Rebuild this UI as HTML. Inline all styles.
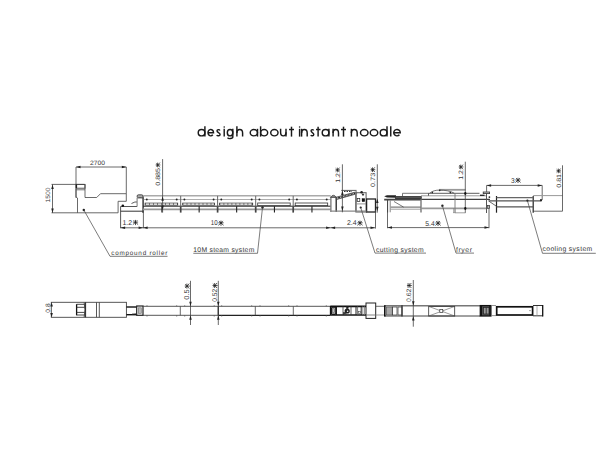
<!DOCTYPE html>
<html><head><meta charset="utf-8"><style>
html,body{margin:0;padding:0;background:#fff;}
body{width:600px;height:463px;overflow:hidden;}
svg{display:block;}
text{font-family:"Liberation Sans",sans-serif;text-rendering:geometricPrecision;}
</style></head><body>
<svg width="600" height="463" viewBox="0 0 600 463" shape-rendering="geometricPrecision">
<g fill="none" stroke="#1a1a1a" stroke-width="1.45"><ellipse cx="201.56" cy="132.70" rx="3.34" ry="3.17"/><path d="M204.90,126.30V136.60"/><path d="M207.97,132.70H213.53A2.78,3.17 0 1 0 212.81,134.82"/><path d="M219.88,130.43C219.48,129.33 217.12,129.22 217.02,130.83C216.92,132.90 220.08,132.40 220.08,134.57C219.98,136.18 217.22,136.18 216.82,134.97"/><path d="M224.20,128.80V136.60"/><circle cx="224.20" cy="127.05" r="0.8" fill="#1a1a1a" stroke="none"/><ellipse cx="230.06" cy="132.70" rx="2.74" ry="3.17"/><path d="M232.80,128.80V137.08C232.80,138.88 227.92,139.08 227.72,137.68"/><path d="M236.90,126.30V136.60"/><path d="M236.90,133.10A2.85,3.57 0 0 1 242.60,133.10V136.60"/><ellipse cx="253.86" cy="132.70" rx="3.64" ry="3.17"/><path d="M257.50,128.80V136.60"/><ellipse cx="264.14" cy="132.70" rx="3.54" ry="3.17"/><path d="M260.60,126.30V136.60"/><ellipse cx="274.38" cy="132.70" rx="3.65" ry="3.17"/><path d="M280.60,128.80V132.30A2.70,3.58 0 0 0 286.00,132.30"/><path d="M286.00,128.80V136.60"/><path d="M291.50,126.70V136.60"/><path d="M289.00,129.53H294.00"/><path d="M299.60,128.80V136.60"/><circle cx="299.60" cy="127.05" r="0.8" fill="#1a1a1a" stroke="none"/><path d="M301.60,128.80V136.60"/><path d="M301.60,133.10A2.80,3.57 0 0 1 307.20,133.10V136.60"/><path d="M313.57,130.43C313.17,129.33 311.18,129.22 311.08,130.83C310.98,132.90 313.77,132.40 313.77,134.57C313.67,136.18 311.28,136.18 310.88,134.97"/><path d="M318.10,126.70V136.60"/><path d="M316.00,129.53H320.50"/><ellipse cx="325.56" cy="132.70" rx="3.34" ry="3.17"/><path d="M328.90,128.80V136.60"/><path d="M333.10,128.80V136.60"/><path d="M333.10,133.10A2.70,3.57 0 0 1 338.50,133.10V136.60"/><path d="M343.50,126.70V136.60"/><path d="M341.00,129.53H346.00"/><path d="M351.40,128.80V136.60"/><path d="M351.40,133.10A2.90,3.57 0 0 1 357.20,133.10V136.60"/><ellipse cx="364.25" cy="132.70" rx="3.77" ry="3.17"/><ellipse cx="374.00" cy="132.70" rx="3.77" ry="3.17"/><ellipse cx="383.61" cy="132.70" rx="3.39" ry="3.17"/><path d="M387.00,126.30V136.60"/><path d="M390.75,126.30V136.60"/><path d="M393.73,132.70H400.27A3.27,3.17 0 1 0 399.43,134.82"/></g>
<line x1="76" y1="167" x2="126.3" y2="167" stroke="#444" stroke-width="0.8" />
<polygon points="76,167 80.5,165.75 80.5,168.25" fill="#222"/>
<polygon points="126.3,167 121.8,165.75 121.8,168.25" fill="#222"/>
<text x="97.5" y="165" font-size="6.3" text-anchor="middle" fill="#333" textLength="15" lengthAdjust="spacingAndGlyphs" >2700</text>
<line x1="76" y1="167" x2="76" y2="198" stroke="#444" stroke-width="0.8" />
<line x1="126.3" y1="167" x2="126.3" y2="193.7" stroke="#444" stroke-width="0.8" />
<line x1="51.5" y1="184.4" x2="84.5" y2="184.4" stroke="#444" stroke-width="0.8" />
<line x1="52.5" y1="184.4" x2="52.5" y2="213" stroke="#444" stroke-width="0.8" />
<polygon points="52.5,184.4 51.25,188.9 53.75,188.9" fill="#222"/>
<polygon points="52.5,213 51.25,208.5 53.75,208.5" fill="#222"/>
<text x="50" y="195" font-size="6.3" text-anchor="middle" fill="#333" textLength="15" lengthAdjust="spacingAndGlyphs" transform="rotate(-90 50 195)" >1500</text>
<rect x="76" y="184.4" width="9" height="3.8" stroke="#444" stroke-width="0.9" fill="none" />
<line x1="76.5" y1="184.4" x2="76.5" y2="188.2" stroke="#222" stroke-width="1.2" />
<line x1="76" y1="189.8" x2="85" y2="189.8" stroke="#666" stroke-width="0.9" />
<polyline points="85,184.4 85,197.5 96.7,197.5 100.5,193.7 126.3,193.7 126.3,201.3 118.1,201.3 118.1,212.8" stroke="#444" stroke-width="0.8" fill="none" />
<polyline points="76,189 76,197 77.5,198 77.5,212.8" stroke="#444" stroke-width="0.8" fill="none" />
<line x1="51.5" y1="212.8" x2="118.1" y2="212.8" stroke="#444" stroke-width="0.8" />
<circle cx="83.8" cy="210" r="1.2" fill="#222"/>
<polyline points="83.8,210 110,256.3 167.5,256.3" stroke="#444" stroke-width="0.7" fill="none" />
<text x="111.3" y="254.7" font-size="6.3" text-anchor="start" fill="#333" textLength="56" lengthAdjust="spacing" >compound roller</text>
<polyline points="120.6,228.2 120.6,206.5 137.1,206.5" stroke="#444" stroke-width="0.9" fill="none" />
<circle cx="122.8" cy="205.8" r="1.3" fill="#111"/>
<line x1="120.6" y1="211.2" x2="143.4" y2="211.2" stroke="#333" stroke-width="1.0" />
<polyline points="131.5,203.5 134.9,202 137,202" stroke="#333" stroke-width="0.8" fill="none" />
<rect x="137.1" y="194.8" width="5.9" height="2.8" stroke="#333" stroke-width="0.8" fill="#aaa" rx="1.3"/>
<line x1="137.1" y1="198" x2="143" y2="198" stroke="#555" stroke-width="0.7" />
<line x1="137.1" y1="197.6" x2="137.1" y2="206.5" stroke="#777" stroke-width="1.0" />
<line x1="143" y1="197.6" x2="143" y2="213" stroke="#222" stroke-width="1.1" />
<line x1="143.4" y1="196" x2="143.4" y2="228.2" stroke="#444" stroke-width="0.8" />
<text x="122.50" y="224.6" font-size="7" fill="#333" textLength="9.68" lengthAdjust="spacingAndGlyphs">1.2</text><path d="M132.90,222.09H138.08M135.49,219.91V225.09M133.63,220.22L134.61,221.26M137.35,220.22L136.37,221.26M135.23,222.50L132.90,224.57M135.75,222.50L138.08,224.57" stroke="#222" stroke-width="0.8" fill="none"/><circle cx="135.49" cy="222.29" r="0.88" fill="#222"/>
<line x1="120.6" y1="227.8" x2="375" y2="227.8" stroke="#444" stroke-width="0.8" />
<polygon points="120.6,227.8 125.1,226.55 125.1,229.05" fill="#222"/>
<polygon points="143.1,227.8 138.6,226.55 138.6,229.05" fill="#222"/>
<polygon points="143.1,227.8 147.6,226.55 147.6,229.05" fill="#222"/>
<polygon points="330.6,227.8 326.1,226.55 326.1,229.05" fill="#222"/>
<polygon points="330.6,227.8 335.1,226.55 335.1,229.05" fill="#222"/>
<polygon points="375,227.8 370.5,226.55 370.5,229.05" fill="#222"/>
<line x1="143.1" y1="195.8" x2="330.7" y2="195.8" stroke="#aaa" stroke-width="1.6" />
<line x1="143.1" y1="199.5" x2="330.7" y2="199.5" stroke="#777" stroke-width="0.6" />
<line x1="143.1" y1="206.2" x2="330.7" y2="206.2" stroke="#222" stroke-width="1.0" />
<line x1="143.1" y1="209.3" x2="330.7" y2="209.3" stroke="#999" stroke-width="1.8" />
<rect x="145.1" y="203.1" width="32.599999999999994" height="2.0" stroke="#333" stroke-width="0.8" fill="#777" />
<line x1="145.79999999999998" y1="204.1" x2="177.0" y2="204.1" stroke="#fff" stroke-width="1.3" stroke-dasharray="3.2,0.8"/>
<circle cx="146.79999999999998" cy="199.5" r="0.95" fill="#222"/>
<circle cx="176.7" cy="199.5" r="0.95" fill="#222"/>
<line x1="161.89999999999998" y1="206.3" x2="161.89999999999998" y2="212.6" stroke="#222" stroke-width="1.1" />
<rect x="182.7" y="203.1" width="31.900000000000006" height="2.0" stroke="#333" stroke-width="0.8" fill="#777" />
<line x1="183.39999999999998" y1="204.1" x2="213.9" y2="204.1" stroke="#fff" stroke-width="1.3" stroke-dasharray="3.2,0.8"/>
<circle cx="184.39999999999998" cy="199.5" r="0.95" fill="#222"/>
<circle cx="213.6" cy="199.5" r="0.95" fill="#222"/>
<line x1="199.14999999999998" y1="206.3" x2="199.14999999999998" y2="212.6" stroke="#222" stroke-width="1.1" />
<rect x="219.6" y="203.1" width="33.099999999999994" height="2.0" stroke="#333" stroke-width="0.8" fill="#777" />
<line x1="220.29999999999998" y1="204.1" x2="252.0" y2="204.1" stroke="#fff" stroke-width="1.3" stroke-dasharray="3.2,0.8"/>
<circle cx="221.29999999999998" cy="199.5" r="0.95" fill="#222"/>
<circle cx="251.7" cy="199.5" r="0.95" fill="#222"/>
<line x1="236.64999999999998" y1="206.3" x2="236.64999999999998" y2="212.6" stroke="#222" stroke-width="1.1" />
<rect x="257.7" y="203.0" width="32.5" height="2.6" stroke="#333" stroke-width="0.8" fill="#fff" />
<circle cx="259.4" cy="199.5" r="0.95" fill="#222"/>
<circle cx="289.2" cy="199.5" r="0.95" fill="#222"/>
<line x1="274.45" y1="206.3" x2="274.45" y2="212.6" stroke="#222" stroke-width="1.1" />
<rect x="295.2" y="203.0" width="32.5" height="2.6" stroke="#333" stroke-width="0.8" fill="#fff" />
<circle cx="296.9" cy="199.5" r="0.95" fill="#222"/>
<circle cx="326.7" cy="199.5" r="0.95" fill="#222"/>
<line x1="311.95" y1="206.3" x2="311.95" y2="212.6" stroke="#222" stroke-width="1.1" />
<line x1="180.7" y1="195.9" x2="180.7" y2="206.5" stroke="#666" stroke-width="1.0" />
<line x1="180.7" y1="206.5" x2="180.7" y2="212.6" stroke="#444" stroke-width="1.7" />
<line x1="217.6" y1="195.9" x2="217.6" y2="206.5" stroke="#666" stroke-width="1.0" />
<line x1="217.6" y1="206.5" x2="217.6" y2="212.6" stroke="#444" stroke-width="1.7" />
<line x1="255.7" y1="195.9" x2="255.7" y2="206.5" stroke="#666" stroke-width="1.0" />
<line x1="255.7" y1="206.5" x2="255.7" y2="212.6" stroke="#444" stroke-width="1.7" />
<line x1="293.2" y1="195.9" x2="293.2" y2="206.5" stroke="#666" stroke-width="1.0" />
<line x1="293.2" y1="206.5" x2="293.2" y2="212.6" stroke="#444" stroke-width="1.7" />
<line x1="162.6" y1="159.1" x2="162.6" y2="212.5" stroke="#444" stroke-width="0.8" />
<polygon points="162.6,196.2 161.35,200.7 163.85,200.7" fill="#222"/>
<polygon points="162.6,210 161.35,205.5 163.85,205.5" fill="#222"/>
<g transform="rotate(-90 159.9 174)"><text x="148.15" y="174" font-size="6.3" fill="#333" textLength="17.78" lengthAdjust="spacingAndGlyphs">0.885</text><path d="M166.61,171.74H171.27M168.94,169.78V174.44M167.26,170.06L168.15,170.99M170.62,170.06L169.73,170.99M168.71,172.11L166.61,173.97M169.17,172.11L171.27,173.97" stroke="#222" stroke-width="0.8" fill="none"/><circle cx="168.94" cy="171.92" r="0.79" fill="#222"/></g>
<text x="210.80" y="225.3" font-size="7" fill="#333" textLength="6.88" lengthAdjust="spacingAndGlyphs">10</text><path d="M218.40,222.79H223.58M220.99,220.61V225.79M219.13,220.92L220.11,221.96M222.85,220.92L221.87,221.96M220.73,223.20L218.40,225.27M221.25,223.20L223.58,225.27" stroke="#222" stroke-width="0.8" fill="none"/><circle cx="220.99" cy="222.99" r="0.88" fill="#222"/>
<circle cx="262.5" cy="207.5" r="1.2" fill="#222"/>
<polyline points="262.5,207.5 257.5,253.3 193.3,253.3" stroke="#444" stroke-width="0.7" fill="none" />
<text x="193.3" y="251.7" font-size="6.8" text-anchor="start" fill="#333" textLength="61" lengthAdjust="spacing" >10M steam system</text>
<line x1="330.9" y1="197" x2="330.9" y2="212" stroke="#777" stroke-width="1.3" />
<line x1="336.2" y1="197" x2="336.2" y2="212" stroke="#222" stroke-width="1.3" />
<path d="M330.5,197.3 Q333.4,193.3 336.4,197.3 Z" stroke="#444" stroke-width="0.8" fill="#999"/>
<line x1="330.5" y1="197.3" x2="336.4" y2="197.3" stroke="#555" stroke-width="0.8" />
<polygon points="336.4,197.2 356.6,191.8 356.6,193.8 336.4,199.5" fill="#bbb" stroke="#333" stroke-width="0.8"/>
<line x1="338" y1="197.9" x2="355" y2="193.3" stroke="#222" stroke-width="1.0" stroke-dasharray="2,1.3"/>
<line x1="341.3" y1="190.4" x2="356.6" y2="190.4" stroke="#333" stroke-width="0.8" />
<line x1="344" y1="191.5" x2="352" y2="191.5" stroke="#333" stroke-width="1.0" stroke-dasharray="1.5,1"/>
<rect x="355.9" y="192.7" width="10.2" height="19.3" stroke="#666" stroke-width="1.1" fill="none" />
<line x1="355.9" y1="192.7" x2="355.9" y2="212" stroke="#777" stroke-width="1.6" />
<circle cx="361.6" cy="192.2" r="1.3" fill="#222"/>
<polygon points="363,193.3 364.3,194.6 363,195.9 361.7,194.6" fill="#333"/>
<rect x="357.2" y="198.6" width="2.6" height="3.0" stroke="#222" stroke-width="0.7" fill="#fff" />
<rect x="362" y="198.5" width="2.8" height="3.2" stroke="#111" stroke-width="0.3" fill="#111" />
<line x1="355.9" y1="203.9" x2="366.1" y2="203.9" stroke="#888" stroke-width="0.9" />
<rect x="366.6" y="199" width="8.9" height="13" stroke="#222" stroke-width="1.3" fill="none" />
<line x1="330.5" y1="211.1" x2="366.5" y2="211.1" stroke="#888" stroke-width="1.3" />
<line x1="375.5" y1="210" x2="375.5" y2="228.6" stroke="#444" stroke-width="0.8" />
<line x1="342.4" y1="164.3" x2="342.4" y2="212.3" stroke="#444" stroke-width="0.8" />
<polygon points="342.4,190.4 341.15,194.9 343.65,194.9" fill="#222"/>
<polygon points="342.4,211.1 341.15,206.6 343.65,206.6" fill="#222"/>
<g transform="rotate(-90 339.6 175)"><text x="331.85" y="175" font-size="6.3" fill="#333" textLength="9.78" lengthAdjust="spacingAndGlyphs">1.2</text><path d="M342.31,172.74H346.97M344.64,170.78V175.44M342.96,171.06L343.85,171.99M346.32,171.06L345.43,171.99M344.41,173.11L342.31,174.97M344.87,173.11L346.97,174.97" stroke="#222" stroke-width="0.8" fill="none"/><circle cx="344.64" cy="172.92" r="0.79" fill="#222"/></g>
<line x1="377.3" y1="164.3" x2="377.3" y2="212.7" stroke="#444" stroke-width="0.8" />
<polygon points="377.3,198.6 376.05,203.1 378.55,203.1" fill="#222"/>
<polygon points="377.3,211.2 376.05,206.7 378.55,206.7" fill="#222"/>
<g transform="rotate(-90 374.8 177)"><text x="364.80" y="177" font-size="6.3" fill="#333" textLength="14.28" lengthAdjust="spacingAndGlyphs">0.73</text><path d="M379.76,174.74H384.42M382.09,172.78V177.44M380.41,173.06L381.30,173.99M383.77,173.06L382.88,173.99M381.86,175.11L379.76,176.97M382.32,175.11L384.42,176.97" stroke="#222" stroke-width="0.8" fill="none"/><circle cx="382.09" cy="174.92" r="0.79" fill="#222"/></g>
<text x="347.00" y="225.3" font-size="7" fill="#333" textLength="9.68" lengthAdjust="spacingAndGlyphs">2.4</text><path d="M357.40,222.79H362.58M359.99,220.61V225.79M358.13,220.92L359.11,221.96M361.85,220.92L360.87,221.96M359.73,223.20L357.40,225.27M360.25,223.20L362.58,225.27" stroke="#222" stroke-width="0.8" fill="none"/><circle cx="359.99" cy="222.99" r="0.88" fill="#222"/>
<circle cx="360.7" cy="207.5" r="1.1" fill="#222"/>
<polyline points="360.7,207.5 375,253.1 426,253.1" stroke="#444" stroke-width="0.7" fill="none" />
<text x="376" y="251.6" font-size="6.8" text-anchor="start" fill="#333" textLength="47.6" lengthAdjust="spacing" >cutting system</text>
<polygon points="384.2,196.3 387,195.2 396,195.3 396,197.8 387,197.6" fill="#222"/>
<rect x="395.5" y="196.4" width="25.8" height="2.2" stroke="#333" stroke-width="0.8" fill="#555" />
<line x1="384.2" y1="199.3" x2="490" y2="199.3" stroke="#111" stroke-width="1.0" />
<line x1="384.2" y1="200.4" x2="421" y2="200.4" stroke="#777" stroke-width="0.8" />
<polyline points="402.5,196 402.5,193.3 428.5,193.3" stroke="#555" stroke-width="0.8" fill="none" />
<line x1="421" y1="195.8" x2="486" y2="195.8" stroke="#999" stroke-width="1.0" />
<polyline points="428.5,195.7 428.5,193.3 479.5,193.3" stroke="#333" stroke-width="0.8" fill="none" />
<rect x="439.3" y="188.9" width="26.2" height="1.8" stroke="none" stroke-width="0" fill="#999" />
<path d="M429.7,193.2 C432,191 436,190 439.7,190.1 C445,190.2 450,190.8 454.3,193.2" stroke="#555" stroke-width="0.8" fill="none"/>
<circle cx="432.3" cy="192.6" r="0.8" fill="#222"/>
<circle cx="439.7" cy="190.4" r="0.8" fill="#222"/>
<circle cx="450.3" cy="192.6" r="0.8" fill="#222"/>
<line x1="394" y1="201.5" x2="403.6" y2="207.1" stroke="#444" stroke-width="0.7" />
<line x1="390.7" y1="207.1" x2="421" y2="207.1" stroke="#333" stroke-width="0.8" />
<line x1="390.7" y1="209.2" x2="421" y2="209.2" stroke="#888" stroke-width="0.8" />
<line x1="421.5" y1="208.4" x2="487" y2="208.4" stroke="#999" stroke-width="1.6" />
<line x1="387.6" y1="199.3" x2="387.6" y2="212.5" stroke="#444" stroke-width="1.0" />
<line x1="390.2" y1="200.4" x2="390.2" y2="212.3" stroke="#777" stroke-width="0.9" />
<line x1="421" y1="199.3" x2="421" y2="212.6" stroke="#777" stroke-width="1.4" />
<line x1="455" y1="193.3" x2="455" y2="213" stroke="#777" stroke-width="0.9" />
<rect x="453.3" y="208.4" width="1.7" height="4.4" stroke="#888" stroke-width="0.6" fill="none" />
<line x1="455" y1="212.8" x2="465.5" y2="212.8" stroke="#888" stroke-width="0.8" />
<line x1="486.5" y1="192" x2="486.5" y2="213" stroke="#555" stroke-width="1.0" />
<rect x="483.2" y="192" width="6.4" height="1.6" stroke="#333" stroke-width="0.8" fill="#ccc" />
<line x1="480" y1="195.3" x2="484.5" y2="195.3" stroke="#222" stroke-width="1.3" />
<circle cx="489.4" cy="197.1" r="0.9" fill="#222"/>
<rect x="487.6" y="205.6" width="1.8" height="2.8" stroke="#333" stroke-width="0.7" fill="none" />
<line x1="465.3" y1="161.7" x2="465.3" y2="212.8" stroke="#444" stroke-width="0.8" />
<ellipse cx="465.3" cy="193.5" rx="1.1" ry="1.4" fill="#111"/>
<ellipse cx="465.3" cy="208.5" rx="1.1" ry="1.4" fill="#111"/>
<g transform="rotate(-90 463 172)"><text x="455.25" y="172" font-size="6.3" fill="#333" textLength="9.78" lengthAdjust="spacingAndGlyphs">1.2</text><path d="M465.71,169.74H470.37M468.04,167.78V172.44M466.36,168.06L467.25,168.99M469.72,168.06L468.83,168.99M467.81,170.11L465.71,171.97M468.27,170.11L470.37,171.97" stroke="#222" stroke-width="0.8" fill="none"/><circle cx="468.04" cy="169.92" r="0.79" fill="#222"/></g>
<line x1="387.5" y1="199" x2="387.5" y2="228.2" stroke="#444" stroke-width="0.8" />
<line x1="387.5" y1="227.6" x2="489" y2="227.6" stroke="#444" stroke-width="0.8" />
<polygon points="387.5,227.6 392.0,226.35 392.0,228.85" fill="#222"/>
<polygon points="489,227.6 484.5,226.35 484.5,228.85" fill="#222"/>
<line x1="489" y1="205" x2="489" y2="228.2" stroke="#444" stroke-width="0.8" />
<text x="425.35" y="225.5" font-size="7" fill="#333" textLength="9.38" lengthAdjust="spacingAndGlyphs">5.4</text><path d="M435.45,222.99H440.63M438.04,220.81V225.99M436.18,221.12L437.16,222.16M439.90,221.12L438.92,222.16M437.78,223.40L435.45,225.47M438.30,223.40L440.63,225.47" stroke="#222" stroke-width="0.8" fill="none"/><circle cx="438.04" cy="223.19" r="0.88" fill="#222"/>
<circle cx="442.4" cy="205.8" r="1.2" fill="#222"/>
<polyline points="442.4,205.8 456,253.1 474,253.1" stroke="#444" stroke-width="0.7" fill="none" />
<text x="456" y="251.6" font-size="6.8" text-anchor="start" fill="#333" textLength="16" lengthAdjust="spacing" >fryer</text>
<line x1="486.6" y1="185.4" x2="542.2" y2="185.4" stroke="#444" stroke-width="0.8" />
<polygon points="486.6,185.4 491.1,184.15 491.1,186.65" fill="#222"/>
<polygon points="542.2,185.4 537.7,184.15 537.7,186.65" fill="#222"/>
<line x1="486.6" y1="185.4" x2="486.6" y2="192" stroke="#444" stroke-width="0.8" />
<line x1="542.2" y1="185.4" x2="542.2" y2="200" stroke="#444" stroke-width="0.8" />
<text x="511.00" y="182.5" font-size="7" fill="#333" textLength="3.68" lengthAdjust="spacingAndGlyphs">3</text><path d="M515.40,179.99H520.58M517.99,177.81V182.99M516.13,178.12L517.11,179.16M519.85,178.12L518.87,179.16M517.73,180.40L515.40,182.47M518.25,180.40L520.58,182.47" stroke="#222" stroke-width="0.8" fill="none"/><circle cx="517.99" cy="180.19" r="0.88" fill="#222"/>
<line x1="496.5" y1="196" x2="496.5" y2="212.7" stroke="#222" stroke-width="1.2" />
<line x1="533.2" y1="196" x2="533.2" y2="212.7" stroke="#222" stroke-width="1.2" />
<line x1="496.5" y1="197.7" x2="533.2" y2="197.7" stroke="#666" stroke-width="1.3" />
<line x1="489" y1="200.8" x2="541.5" y2="200.8" stroke="#555" stroke-width="1.3" />
<line x1="496.5" y1="206.9" x2="533.2" y2="206.9" stroke="#555" stroke-width="1.3" />
<line x1="488.2" y1="200.7" x2="496.5" y2="206.3" stroke="#444" stroke-width="0.8" />
<line x1="533.2" y1="195.6" x2="562.5" y2="195.6" stroke="#999" stroke-width="1.0" />
<circle cx="541" cy="200.2" r="1.1" fill="#222"/>
<line x1="533.2" y1="211.2" x2="562.5" y2="211.2" stroke="#444" stroke-width="0.8" />
<line x1="562.5" y1="165.3" x2="562.5" y2="211.2" stroke="#444" stroke-width="0.8" />
<g transform="rotate(-90 560.6 178)"><text x="550.80" y="178" font-size="6.3" fill="#333" textLength="13.88" lengthAdjust="spacingAndGlyphs">0.81</text><path d="M565.36,175.74H570.02M567.69,173.78V178.44M566.01,174.06L566.90,174.99M569.37,174.06L568.48,174.99M567.46,176.11L565.36,177.97M567.92,176.11L570.02,177.97" stroke="#222" stroke-width="0.8" fill="none"/><circle cx="567.69" cy="175.92" r="0.79" fill="#222"/></g>
<circle cx="527.4" cy="200.6" r="1.1" fill="#222"/>
<polyline points="527.4,200.6 542.5,253.3 595.8,253.3" stroke="#444" stroke-width="0.7" fill="none" />
<text x="542.5" y="251.4" font-size="6.8" text-anchor="start" fill="#333" textLength="49.7" lengthAdjust="spacing" >cooling system</text>
<rect x="51.3" y="302.3" width="75.1" height="15" stroke="#444" stroke-width="0.9" fill="none" />
<polygon points="51.6,302.4 50.300000000000004,306.59999999999997 52.9,306.59999999999997" fill="#222"/>
<polygon points="51.6,317.3 50.300000000000004,313.1 52.9,313.1" fill="#222"/>
<text x="49.8" y="308" font-size="6.3" text-anchor="middle" fill="#333" textLength="9.3" lengthAdjust="spacingAndGlyphs" transform="rotate(-90 49.8 308)" >0.8</text>
<line x1="76.6" y1="304.2" x2="76.6" y2="315.3" stroke="#111" stroke-width="1.3" />
<path d="M84.2,302.5 Q85.6,309.8 84.2,317.2" stroke="#333" stroke-width="0.9" fill="none"/>
<line x1="85.6" y1="302.3" x2="85.6" y2="317.3" stroke="#222" stroke-width="1.0" />
<line x1="76.6" y1="304.3" x2="84.6" y2="304.3" stroke="#333" stroke-width="0.9" />
<line x1="76.6" y1="307.3" x2="84.6" y2="307.3" stroke="#333" stroke-width="0.9" />
<line x1="76.6" y1="312.4" x2="84.6" y2="312.4" stroke="#333" stroke-width="0.9" />
<line x1="76.6" y1="315.0" x2="84.6" y2="315.0" stroke="#333" stroke-width="0.9" />
<line x1="96.5" y1="302.3" x2="96.5" y2="317.3" stroke="#444" stroke-width="0.9" />
<line x1="99.3" y1="302.3" x2="99.3" y2="317.3" stroke="#444" stroke-width="0.9" />
<line x1="126.4" y1="307.0" x2="136.7" y2="307.0" stroke="#111" stroke-width="1.4" />
<line x1="126.4" y1="314.7" x2="136.7" y2="314.7" stroke="#111" stroke-width="1.4" />
<line x1="132" y1="314.1" x2="136.5" y2="313.7" stroke="#333" stroke-width="0.8" />
<rect x="136.7" y="306" width="6.3" height="9.3" stroke="#222" stroke-width="1.2" fill="none" />
<rect x="138.3" y="307.8" width="3" height="5.5" stroke="#777" stroke-width="0.7" fill="#bbb" />
<line x1="143" y1="306.3" x2="330.3" y2="306.3" stroke="#444" stroke-width="0.9" />
<line x1="143" y1="315.3" x2="218.3" y2="315.3" stroke="#444" stroke-width="0.9" />
<line x1="218.3" y1="315.4" x2="330.3" y2="315.4" stroke="#222" stroke-width="1.2" />
<line x1="180.3" y1="306.3" x2="180.3" y2="315.3" stroke="#444" stroke-width="0.8" />
<line x1="255.3" y1="306.3" x2="255.3" y2="315.3" stroke="#444" stroke-width="0.8" />
<line x1="293.3" y1="306.3" x2="293.3" y2="315.3" stroke="#444" stroke-width="0.8" />
<line x1="218.3" y1="306.3" x2="218.3" y2="315.3" stroke="#222" stroke-width="1.3" />
<line x1="147" y1="305.3" x2="147" y2="306.3" stroke="#555" stroke-width="0.8" />
<line x1="147" y1="315.3" x2="147" y2="316.5" stroke="#555" stroke-width="0.8" />
<line x1="176.7" y1="305.3" x2="176.7" y2="306.3" stroke="#555" stroke-width="0.8" />
<line x1="176.7" y1="315.3" x2="176.7" y2="316.5" stroke="#555" stroke-width="0.8" />
<line x1="184.7" y1="305.3" x2="184.7" y2="306.3" stroke="#555" stroke-width="0.8" />
<line x1="184.7" y1="315.3" x2="184.7" y2="316.5" stroke="#555" stroke-width="0.8" />
<line x1="214.2" y1="305.3" x2="214.2" y2="306.3" stroke="#555" stroke-width="0.8" />
<line x1="214.2" y1="315.3" x2="214.2" y2="316.5" stroke="#555" stroke-width="0.8" />
<line x1="221.7" y1="305.3" x2="221.7" y2="306.3" stroke="#555" stroke-width="0.8" />
<line x1="221.7" y1="315.3" x2="221.7" y2="316.5" stroke="#555" stroke-width="0.8" />
<line x1="251.7" y1="305.3" x2="251.7" y2="306.3" stroke="#555" stroke-width="0.8" />
<line x1="251.7" y1="315.3" x2="251.7" y2="316.5" stroke="#555" stroke-width="0.8" />
<line x1="260" y1="305.3" x2="260" y2="306.3" stroke="#555" stroke-width="0.8" />
<line x1="260" y1="315.3" x2="260" y2="316.5" stroke="#555" stroke-width="0.8" />
<line x1="288.7" y1="305.3" x2="288.7" y2="306.3" stroke="#555" stroke-width="0.8" />
<line x1="288.7" y1="315.3" x2="288.7" y2="316.5" stroke="#555" stroke-width="0.8" />
<line x1="297" y1="305.3" x2="297" y2="306.3" stroke="#555" stroke-width="0.8" />
<line x1="297" y1="315.3" x2="297" y2="316.5" stroke="#555" stroke-width="0.8" />
<line x1="326.3" y1="305.3" x2="326.3" y2="306.3" stroke="#555" stroke-width="0.8" />
<line x1="326.3" y1="315.3" x2="326.3" y2="316.5" stroke="#555" stroke-width="0.8" />
<line x1="190.5" y1="280.8" x2="190.5" y2="325" stroke="#444" stroke-width="0.8" />
<polygon points="190.5,306.3 189.25,301.8 191.75,301.8" fill="#222"/>
<polygon points="190.5,315.3 189.25,319.8 191.75,319.8" fill="#222"/>
<g transform="rotate(-90 189.3 291.4)"><text x="181.05" y="291.4" font-size="6.8" fill="#333" textLength="10.35" lengthAdjust="spacingAndGlyphs">0.5</text><path d="M192.11,288.96H197.14M194.63,286.84V291.88M192.81,287.15L193.77,288.15M196.44,287.15L195.48,288.15M194.37,289.36L192.11,291.37M194.88,289.36L197.14,291.37" stroke="#222" stroke-width="0.8" fill="none"/><circle cx="194.63" cy="289.16" r="0.86" fill="#222"/></g>
<line x1="218.3" y1="280.8" x2="218.3" y2="325" stroke="#444" stroke-width="0.8" />
<polygon points="218.3,306.3 217.05,301.8 219.55,301.8" fill="#222"/>
<polygon points="218.3,315.3 217.05,319.8 219.55,319.8" fill="#222"/>
<g transform="rotate(-90 217.1 292.2)"><text x="207.50" y="292.2" font-size="6.8" fill="#333" textLength="13.05" lengthAdjust="spacingAndGlyphs">0.52</text><path d="M221.26,289.76H226.29M223.78,287.64V292.68M221.96,287.95L222.92,288.95M225.59,287.95L224.63,288.95M223.52,290.16L221.26,292.17M224.03,290.16L226.29,292.17" stroke="#222" stroke-width="0.8" fill="none"/><circle cx="223.78" cy="289.96" r="0.86" fill="#222"/></g>
<line x1="330.3" y1="306.4" x2="366" y2="306.4" stroke="#111" stroke-width="1.6" />
<line x1="330.3" y1="315.0" x2="366" y2="315.0" stroke="#111" stroke-width="1.6" />
<line x1="330.5" y1="306" x2="330.5" y2="315.3" stroke="#111" stroke-width="1.3" />
<rect x="331.4" y="307.3" width="4.4" height="7.1" stroke="#111" stroke-width="1.1" fill="#bbb" rx="1.2"/>
<rect x="332.6" y="308.8" width="1.8" height="3.6" stroke="#555" stroke-width="0.5" fill="none" />
<line x1="336.4" y1="306.3" x2="336.4" y2="315" stroke="#111" stroke-width="1.1" />
<line x1="343" y1="306.3" x2="343" y2="315" stroke="#333" stroke-width="0.8" />
<circle cx="347.2" cy="311.0" r="2.6" fill="#222"/>
<circle cx="347.6" cy="311.2" r="0.8" fill="#fff"/>
<rect x="343.5" y="312.5" width="1.5" height="2" stroke="#222" stroke-width="0.4" fill="#222" />
<rect x="346.4" y="306.5" width="1.8" height="2.2" stroke="#222" stroke-width="0.4" fill="#222" />
<rect x="344" y="313.2" width="2" height="1.6" stroke="#222" stroke-width="0.4" fill="#666" />
<line x1="351" y1="306.3" x2="351" y2="315" stroke="#333" stroke-width="0.8" />
<line x1="356" y1="306.3" x2="356" y2="315" stroke="#222" stroke-width="1.0" />
<line x1="357.6" y1="306.3" x2="357.6" y2="315" stroke="#555" stroke-width="0.8" />
<rect x="358.6" y="311.5" width="1.6" height="1.8" stroke="#333" stroke-width="0.5" fill="#fff" />
<line x1="361.2" y1="306.3" x2="361.2" y2="315" stroke="#222" stroke-width="1.0" />
<line x1="362.8" y1="306.3" x2="362.8" y2="315" stroke="#777" stroke-width="0.8" />
<line x1="364.5" y1="306.3" x2="364.5" y2="315" stroke="#777" stroke-width="0.8" />
<rect x="366" y="303" width="9.7" height="15.4" stroke="#222" stroke-width="1.0" fill="none" />
<line x1="366" y1="315" x2="375.7" y2="315" stroke="#666" stroke-width="0.8" />
<line x1="375.7" y1="306.3" x2="384.3" y2="306.3" stroke="#444" stroke-width="0.8" />
<line x1="375.7" y1="315" x2="384.3" y2="315" stroke="#888" stroke-width="0.8" />
<line x1="384.3" y1="305.8" x2="480" y2="305.8" stroke="#777" stroke-width="1.6" />
<line x1="384.3" y1="316" x2="480" y2="316" stroke="#444" stroke-width="1.0" />
<line x1="384.8" y1="305.3" x2="384.8" y2="316.5" stroke="#111" stroke-width="1.6" />
<line x1="402" y1="305.3" x2="402" y2="316.5" stroke="#222" stroke-width="1.2" />
<rect x="386.3" y="307" width="6" height="8" stroke="#555" stroke-width="0.7" fill="#aaa" />
<rect x="392.3" y="307" width="4.7" height="8" stroke="#333" stroke-width="0.7" fill="none" />
<rect x="398" y="307" width="4" height="8" stroke="#333" stroke-width="0.7" fill="none" />
<rect x="428.7" y="306.4" width="26" height="9.6" stroke="#333" stroke-width="0.8" fill="none" />
<line x1="428.7" y1="306.4" x2="454.7" y2="316" stroke="#555" stroke-width="0.6" />
<line x1="428.7" y1="316" x2="454.7" y2="306.4" stroke="#555" stroke-width="0.6" />
<rect x="439.8" y="309.5" width="3" height="3" stroke="#333" stroke-width="0.7" fill="#fff" />
<line x1="413.3" y1="280" x2="413.3" y2="326.7" stroke="#444" stroke-width="0.8" />
<polygon points="413.3,305.8 412.05,301.3 414.55,301.3" fill="#222"/>
<polygon points="413.3,316 412.05,320.5 414.55,320.5" fill="#222"/>
<g transform="rotate(-90 411.3 292.3)"><text x="401.70" y="292.3" font-size="6.5" fill="#333" textLength="13.31" lengthAdjust="spacingAndGlyphs">0.62</text><path d="M415.70,289.97H420.51M418.11,287.95V292.75M416.37,288.23L417.29,289.20M419.84,288.23L418.92,289.20M417.86,290.35L415.70,292.27M418.35,290.35L420.51,292.27" stroke="#222" stroke-width="0.8" fill="none"/><circle cx="418.11" cy="290.16" r="0.82" fill="#222"/></g>
<rect x="480.3" y="305.6" width="10.6" height="10.4" stroke="#111" stroke-width="1.3" fill="#555" />
<line x1="481.5" y1="305.6" x2="481.5" y2="316" stroke="#111" stroke-width="1.2" />
<rect x="483.5" y="307.5" width="5.5" height="6.5" stroke="#222" stroke-width="0.7" fill="#999" />
<line x1="486.2" y1="307.5" x2="486.2" y2="314" stroke="#222" stroke-width="0.8" />
<line x1="489.8" y1="305.6" x2="489.8" y2="316" stroke="#111" stroke-width="1.0" />
<line x1="491.3" y1="305.5" x2="496" y2="305.5" stroke="#777" stroke-width="0.8" />
<line x1="491.3" y1="315.6" x2="496" y2="315.6" stroke="#777" stroke-width="0.8" />
<rect x="496.7" y="306.8" width="35.9" height="8.2" stroke="#111" stroke-width="1.7" fill="none" />
<circle cx="530" cy="310.6" r="0.6" fill="#555"/>
<line x1="533" y1="305.5" x2="542.7" y2="305.5" stroke="#333" stroke-width="1.0" />
<line x1="533" y1="315.8" x2="542.7" y2="315.8" stroke="#333" stroke-width="1.0" />
<line x1="542.7" y1="305" x2="542.7" y2="316.4" stroke="#111" stroke-width="1.3" />
<line x1="537" y1="306" x2="537" y2="315.5" stroke="#999" stroke-width="0.8" />
</svg>
</body></html>
